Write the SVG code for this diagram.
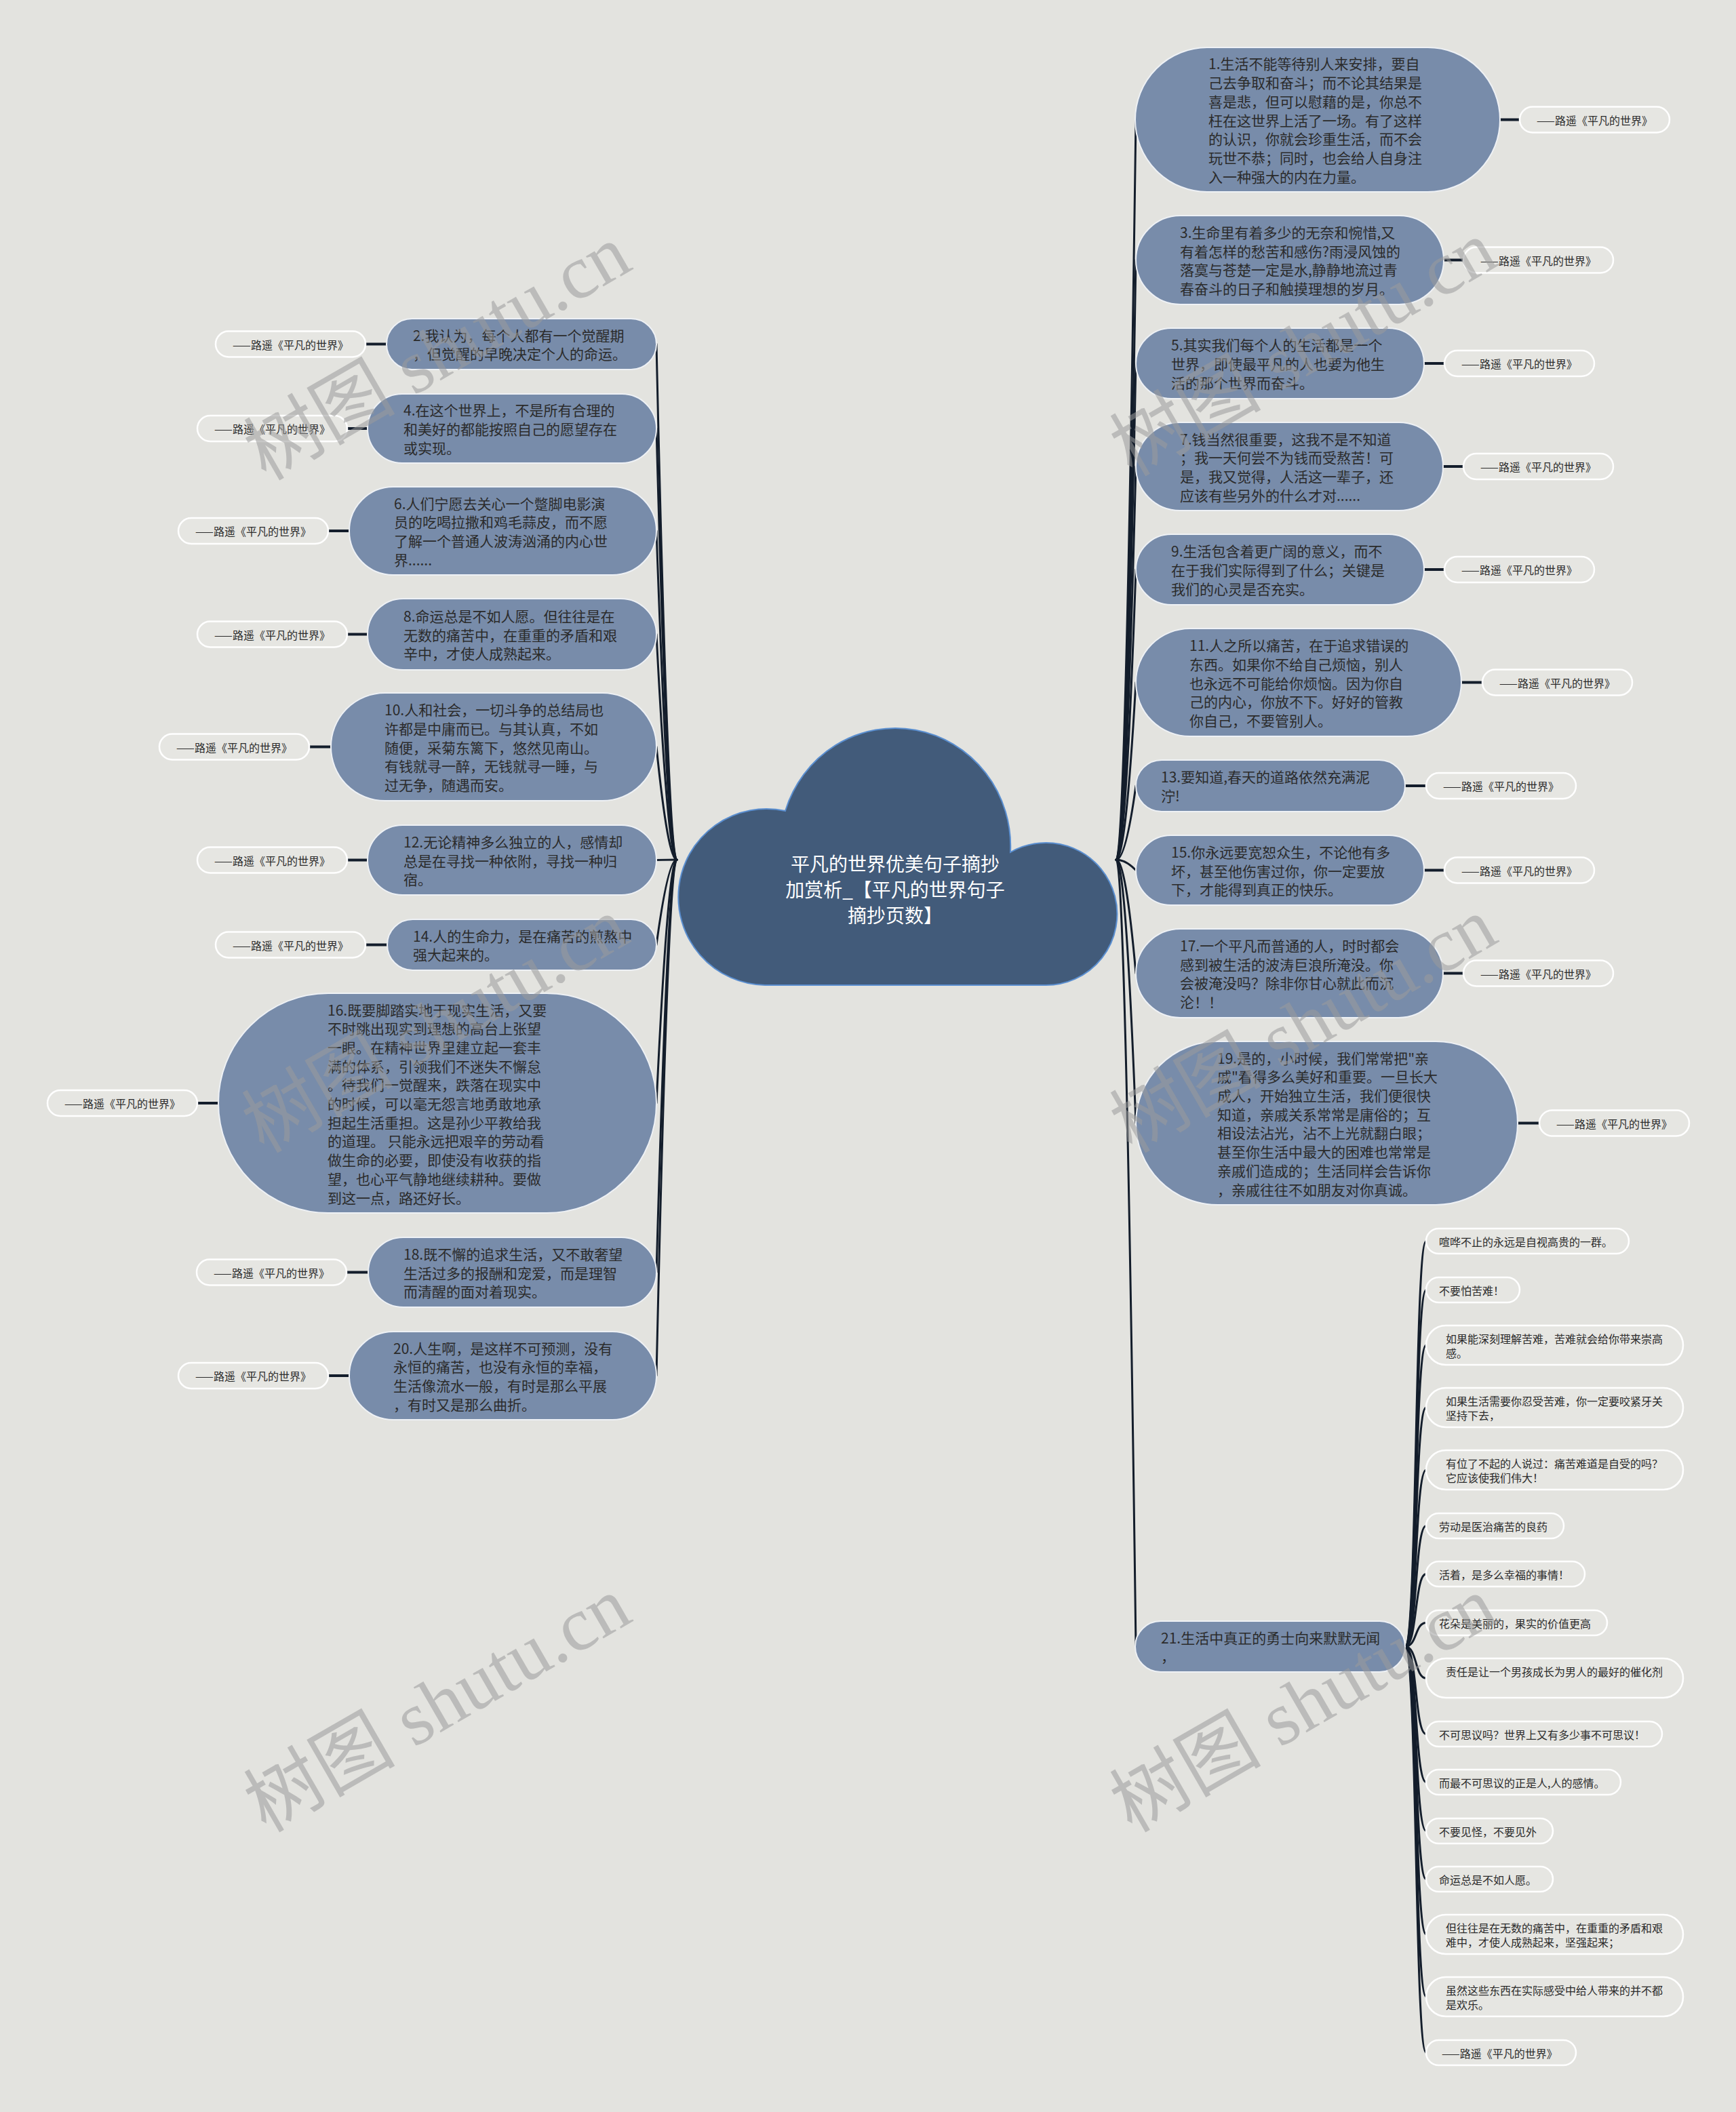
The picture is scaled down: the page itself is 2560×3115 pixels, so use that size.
<svg xmlns="http://www.w3.org/2000/svg" width="2560" height="3115" viewBox="0 0 2560 3115">
<style>
.bg{fill:#e3e3df}
.nb{fill:#788caa;stroke:#eef1f5;stroke-width:2}
.nt{font-family:"Noto Sans CJK SC","Liberation Sans",sans-serif;font-size:21px;fill:#2b2b2b;dominant-baseline:central}
.lb{fill:#e6e6e2;stroke:#ffffff;stroke-width:2.5}
.lt{font-family:"Noto Sans CJK SC","Liberation Sans",sans-serif;font-size:16px;fill:#2b2b2b;dominant-baseline:central;text-anchor:middle}
.ct{font-family:"Noto Sans CJK SC","Liberation Sans",sans-serif;font-size:16px;fill:#2b2b2b;dominant-baseline:central}
.cn{fill:none;stroke:#131d2b;stroke-width:3;stroke-linecap:round}
.st{fill:none;stroke:#131d2b;stroke-width:4}
.rt{font-family:"Noto Sans CJK SC","Liberation Sans",sans-serif;font-size:28px;fill:#ffffff;dominant-baseline:central;text-anchor:middle}
.wm{font-family:"Liberation Serif","Noto Sans CJK SC",serif;font-size:112px;fill:#9a9a9a;fill-opacity:0.55;text-anchor:middle;dominant-baseline:central}
</style>
<rect class="bg" x="0" y="0" width="2560" height="3115"/>

<g id="connectors">
<!-- left main -->
<path class="cn" d="M998,1268 Q985,1268 968,507.5"/>
<path class="cn" d="M998,1268 Q985,1268 968,632"/>
<path class="cn" d="M998,1268 Q985,1268 968,783"/>
<path class="cn" d="M998,1268 Q985,1268 968,935.5"/>
<path class="cn" d="M998,1268 Q985,1268 968,1101.5"/>
<path class="cn" d="M998,1268 Q985,1268 968,1268.5"/>
<path class="cn" d="M998,1268 Q985,1268 968,1393.5"/>
<path class="cn" d="M998,1268 Q985,1268 968,1627"/>
<path class="cn" d="M998,1268 Q985,1268 968,1876.5"/>
<path class="cn" d="M998,1268 Q985,1268 968,2029"/>
<!-- right main -->
<path class="cn" d="M1646,1268 Q1660,1268 1675,176.5"/>
<path class="cn" d="M1646,1268 Q1660,1268 1675,383.5"/>
<path class="cn" d="M1646,1268 Q1660,1268 1675,536"/>
<path class="cn" d="M1646,1268 Q1660,1268 1675,688"/>
<path class="cn" d="M1646,1268 Q1660,1268 1675,840"/>
<path class="cn" d="M1646,1268 Q1660,1268 1675,1006.5"/>
<path class="cn" d="M1646,1268 Q1660,1268 1675,1159"/>
<path class="cn" d="M1646,1268 Q1660,1268 1675,1283.5"/>
<path class="cn" d="M1646,1268 Q1660,1268 1675,1435.5"/>
<path class="cn" d="M1646,1268 Q1660,1268 1675,1656.5"/>
<path class="cn" d="M1646,1268 Q1660,1268 1675,2428.5"/>
<!-- stubs to labels -->
<path class="st" d="M539,507.5H570M512,632H542M484,783H515M512,935.5H542M456,1101.5H488M512,1268.5H542M539,1393.5H571M291,1627H322M511,1876.5H543M484,2029H515"/>
<path class="st" d="M2212,176.5H2241M2129,383.5H2158M2100,536H2130M2128,688H2158M2100,840H2130M2155,1006.5H2186M2072,1159H2103M2100,1283.5H2130M2128,1435.5H2158M2238,1656.5H2270"/>
<!-- node 21 children -->
<path class="cn" d="M2072,2428.5 C2090,2428.5 2086,1830.5 2103,1830.5"/>
<path class="cn" d="M2072,2428.5 C2090,2428.5 2086,1902.5 2103,1902.5"/>
<path class="cn" d="M2072,2428.5 C2090,2428.5 2086,1984 2103,1984"/>
<path class="cn" d="M2072,2428.5 C2090,2428.5 2086,2076 2103,2076"/>
<path class="cn" d="M2072,2428.5 C2090,2428.5 2086,2168 2103,2168"/>
<path class="cn" d="M2072,2428.5 C2090,2428.5 2086,2250.5 2103,2250.5"/>
<path class="cn" d="M2072,2428.5 C2090,2428.5 2086,2321.5 2103,2321.5"/>
<path class="cn" d="M2072,2428.5 C2090,2428.5 2086,2393.5 2103,2393.5"/>
<path class="cn" d="M2072,2428.5 C2090,2428.5 2086,2475 2103,2475"/>
<path class="cn" d="M2072,2428.5 C2090,2428.5 2086,2557.5 2103,2557.5"/>
<path class="cn" d="M2072,2428.5 C2090,2428.5 2086,2628.5 2103,2628.5"/>
<path class="cn" d="M2072,2428.5 C2090,2428.5 2086,2700.5 2103,2700.5"/>
<path class="cn" d="M2072,2428.5 C2090,2428.5 2086,2771.5 2103,2771.5"/>
<path class="cn" d="M2072,2428.5 C2090,2428.5 2086,2853 2103,2853"/>
<path class="cn" d="M2072,2428.5 C2090,2428.5 2086,2945 2103,2945"/>
<path class="cn" d="M2072,2428.5 C2090,2428.5 2086,3027.5 2103,3027.5"/>
</g>

<g id="root">
<path d="M1128,1453 A130,130 0 1 1 1158,1196 A170,174 0 0 1 1490,1257 A105,105 0 1 1 1541,1453 Z" fill="#425b7a" stroke="#5b8fd0" stroke-width="2"/>
<text class="rt"><tspan x="1320" y="1273">平凡的世界优美句子摘抄</tspan><tspan x="1320" y="1311">加赏析_【平凡的世界句子</tspan><tspan x="1320" y="1349">摘抄页数】</tspan></text>
</g>

<!-- right nodes -->
<g id="n1"><rect class="nb" x="1674" y="70" width="538" height="213" rx="106.5"/>
<text class="nt"><tspan x="1782" y="93.4">1.生活不能等待别人来安排，要自</tspan><tspan x="1782" y="121.1">己去争取和奋斗；而不论其结果是</tspan><tspan x="1782" y="148.8">喜是悲，但可以慰藉的是，你总不</tspan><tspan x="1782" y="176.5">枉在这世界上活了一场。有了这样</tspan><tspan x="1782" y="204.2">的认识，你就会珍重生活，而不会</tspan><tspan x="1782" y="231.9">玩世不恭；同时，也会给人自身注</tspan><tspan x="1782" y="259.6">入一种强大的内在力量。</tspan></text></g>
<g id="l1"><rect class="lb" x="2241" y="157.5" width="221" height="38" rx="19"/><text class="lt" x="2351.5" y="176.5">——路遥《平凡的世界》</text></g>

<g id="n3"><rect class="nb" x="1675" y="318" width="454" height="131" rx="65.5"/>
<text class="nt"><tspan x="1740" y="342">3.生命里有着多少的无奈和惋惜,又</tspan><tspan x="1740" y="369.7">有着怎样的愁苦和感伤?雨浸风蚀的</tspan><tspan x="1740" y="397.4">落寞与苍楚一定是水,静静地流过青</tspan><tspan x="1740" y="425.1">春奋斗的日子和触摸理想的岁月。</tspan></text></g>
<g id="l3"><rect class="lb" x="2158" y="364.5" width="221" height="38" rx="19"/><text class="lt" x="2268.5" y="383.5">——路遥《平凡的世界》</text></g>

<g id="n5"><rect class="nb" x="1675" y="484" width="425" height="104" rx="52"/>
<text class="nt"><tspan x="1727" y="508.3">5.其实我们每个人的生活都是一个</tspan><tspan x="1727" y="536">世界，即使最平凡的人也要为他生</tspan><tspan x="1727" y="563.7">活的那个世界而奋斗。</tspan></text></g>
<g id="l5"><rect class="lb" x="2130" y="517" width="221" height="38" rx="19"/><text class="lt" x="2240.5" y="536">——路遥《平凡的世界》</text></g>

<g id="n7"><rect class="nb" x="1675" y="623" width="453" height="130" rx="65"/>
<text class="nt"><tspan x="1740" y="646.5">7.钱当然很重要，这我不是不知道</tspan><tspan x="1740" y="674.2">；我一天何尝不为钱而受熬苦！可</tspan><tspan x="1740" y="701.9">是，我又觉得，人活这一辈子，还</tspan><tspan x="1740" y="729.6">应该有些另外的什么才对......</tspan></text></g>
<g id="l7"><rect class="lb" x="2158" y="669" width="221" height="38" rx="19"/><text class="lt" x="2268.5" y="688">——路遥《平凡的世界》</text></g>

<g id="n9"><rect class="nb" x="1675" y="788" width="425" height="104" rx="52"/>
<text class="nt"><tspan x="1727" y="812.3">9.生活包含着更广阔的意义，而不</tspan><tspan x="1727" y="840">在于我们实际得到了什么；关键是</tspan><tspan x="1727" y="867.7">我们的心灵是否充实。</tspan></text></g>
<g id="l9"><rect class="lb" x="2130" y="821" width="221" height="38" rx="19"/><text class="lt" x="2240.5" y="840">——路遥《平凡的世界》</text></g>

<g id="n11"><rect class="nb" x="1675" y="927" width="480" height="159" rx="79.5"/>
<text class="nt"><tspan x="1754" y="951.1">11.人之所以痛苦，在于追求错误的</tspan><tspan x="1754" y="978.8">东西。如果你不给自己烦恼，别人</tspan><tspan x="1754" y="1006.5">也永远不可能给你烦恼。因为你自</tspan><tspan x="1754" y="1034.2">己的内心，你放不下。好好的管教</tspan><tspan x="1754" y="1061.9">你自己，不要管别人。</tspan></text></g>
<g id="l11"><rect class="lb" x="2186" y="987.5" width="221" height="38" rx="19"/><text class="lt" x="2296.5" y="1006.5">——路遥《平凡的世界》</text></g>

<g id="n13"><rect class="nb" x="1675" y="1121" width="397" height="76" rx="38"/>
<text class="nt"><tspan x="1712" y="1145.2">13.要知道,春天的道路依然充满泥</tspan><tspan x="1712" y="1172.9">泞!</tspan></text></g>
<g id="l13"><rect class="lb" x="2103" y="1140" width="221" height="38" rx="19"/><text class="lt" x="2213.5" y="1159">——路遥《平凡的世界》</text></g>

<g id="n15"><rect class="nb" x="1675" y="1232" width="425" height="103" rx="51.5"/>
<text class="nt"><tspan x="1727" y="1255.8">15.你永远要宽恕众生，不论他有多</tspan><tspan x="1727" y="1283.5">坏，甚至他伤害过你，你一定要放</tspan><tspan x="1727" y="1311.2">下，才能得到真正的快乐。</tspan></text></g>
<g id="l15"><rect class="lb" x="2130" y="1264.5" width="221" height="38" rx="19"/><text class="lt" x="2240.5" y="1283.5">——路遥《平凡的世界》</text></g>

<g id="n17"><rect class="nb" x="1675" y="1370" width="453" height="131" rx="65.5"/>
<text class="nt"><tspan x="1740" y="1394">17.一个平凡而普通的人，时时都会</tspan><tspan x="1740" y="1421.7">感到被生活的波涛巨浪所淹没。你</tspan><tspan x="1740" y="1449.4">会被淹没吗？除非你甘心就此而沉</tspan><tspan x="1740" y="1477.1">沦！！</tspan></text></g>
<g id="l17"><rect class="lb" x="2158" y="1416.5" width="221" height="38" rx="19"/><text class="lt" x="2268.5" y="1435.5">——路遥《平凡的世界》</text></g>

<g id="n19"><rect class="nb" x="1675" y="1536" width="563" height="241" rx="120.5"/>
<text class="nt"><tspan x="1795" y="1559.6">19.是的，小时候，我们常常把"亲</tspan><tspan x="1795" y="1587.3">戚"看得多么美好和重要。一旦长大</tspan><tspan x="1795" y="1615">成人，开始独立生活，我们便很快</tspan><tspan x="1795" y="1642.7">知道，亲戚关系常常是庸俗的；互</tspan><tspan x="1795" y="1670.4">相设法沾光，沾不上光就翻白眼；</tspan><tspan x="1795" y="1698.1">甚至你生活中最大的困难也常常是</tspan><tspan x="1795" y="1725.8">亲戚们造成的；生活同样会告诉你</tspan><tspan x="1795" y="1753.5">，亲戚往往不如朋友对你真诚。</tspan></text></g>
<g id="l19"><rect class="lb" x="2270" y="1637.5" width="221" height="38" rx="19"/><text class="lt" x="2380.5" y="1656.5">——路遥《平凡的世界》</text></g>

<g id="n21"><rect class="nb" x="1674" y="2391" width="398" height="75" rx="37.5"/>
<text class="nt"><tspan x="1712" y="2414.6">21.生活中真正的勇士向来默默无闻</tspan><tspan x="1712" y="2442.3">，</tspan></text></g>

<!-- node 21 children -->
<g id="c1"><rect class="lb" x="2103" y="1812" width="299" height="37" rx="18.5"/><text class="ct" x="2122" y="1830.5">喧哗不止的永远是自视高贵的一群。</text></g>
<g id="c2"><rect class="lb" x="2103" y="1884" width="138" height="37" rx="18.5"/><text class="ct" x="2122" y="1902.5">不要怕苦难！</text></g>
<g id="c3"><rect class="lb" x="2103" y="1955" width="379" height="58" rx="29"/><text class="ct"><tspan x="2132" y="1973.5">如果能深刻理解苦难，苦难就会给你带来崇高</tspan><tspan x="2132" y="1994.5">感。</tspan></text></g>
<g id="c4"><rect class="lb" x="2103" y="2047" width="379" height="58" rx="29"/><text class="ct"><tspan x="2132" y="2065.5">如果生活需要你忍受苦难，你一定要咬紧牙关</tspan><tspan x="2132" y="2086.5">坚持下去，</tspan></text></g>
<g id="c5"><rect class="lb" x="2103" y="2139" width="379" height="58" rx="29"/><text class="ct"><tspan x="2132" y="2157.5">有位了不起的人说过：痛苦难道是自受的吗？</tspan><tspan x="2132" y="2178.5">它应该使我们伟大！</tspan></text></g>
<g id="c6"><rect class="lb" x="2103" y="2232" width="203" height="37" rx="18.5"/><text class="ct" x="2122" y="2250.5">劳动是医治痛苦的良药</text></g>
<g id="c7"><rect class="lb" x="2103" y="2303" width="234" height="37" rx="18.5"/><text class="ct" x="2122" y="2321.5">活着，是多么幸福的事情！</text></g>
<g id="c8"><rect class="lb" x="2103" y="2375" width="267" height="37" rx="18.5"/><text class="ct" x="2122" y="2393.5">花朵是美丽的，果实的价值更高</text></g>
<g id="c9"><rect class="lb" x="2103" y="2446" width="379" height="58" rx="29"/><text class="ct" x="2132" y="2464.5">责任是让一个男孩成长为男人的最好的催化剂</text></g>
<g id="c10"><rect class="lb" x="2103" y="2539" width="348" height="37" rx="18.5"/><text class="ct" x="2122" y="2557.5">不可思议吗？世界上又有多少事不可思议！</text></g>
<g id="c11"><rect class="lb" x="2103" y="2610" width="287" height="37" rx="18.5"/><text class="ct" x="2122" y="2628.5">而最不可思议的正是人,人的感情。</text></g>
<g id="c12"><rect class="lb" x="2103" y="2682" width="187" height="37" rx="18.5"/><text class="ct" x="2122" y="2700.5">不要见怪，不要见外</text></g>
<g id="c13"><rect class="lb" x="2103" y="2753" width="187" height="37" rx="18.5"/><text class="ct" x="2122" y="2771.5">命运总是不如人愿。</text></g>
<g id="c14"><rect class="lb" x="2103" y="2824" width="379" height="58" rx="29"/><text class="ct"><tspan x="2132" y="2842.5">但往往是在无数的痛苦中，在重重的矛盾和艰</tspan><tspan x="2132" y="2863.5">难中，才使人成熟起来，坚强起来；</tspan></text></g>
<g id="c15"><rect class="lb" x="2103" y="2916" width="379" height="58" rx="29"/><text class="ct"><tspan x="2132" y="2934.5">虽然这些东西在实际感受中给人带来的并不都</tspan><tspan x="2132" y="2955.5">是欢乐。</tspan></text></g>
<g id="c16"><rect class="lb" x="2103" y="3009" width="221" height="37" rx="18.5"/><text class="ct" x="2126" y="3027.5">——路遥《平凡的世界》</text></g>

<!-- left nodes -->
<g id="n2"><rect class="nb" x="570" y="470" width="398" height="75" rx="37.5"/>
<text class="nt"><tspan x="609" y="493.6">2.我认为，每个人都有一个觉醒期</tspan><tspan x="609" y="521.3">，但觉醒的早晚决定个人的命运。</tspan></text></g>
<g id="l2"><rect class="lb" x="318" y="488.5" width="221" height="38" rx="19"/><text class="lt" x="428.5" y="507.5">——路遥《平凡的世界》</text></g>

<g id="n4"><rect class="nb" x="542" y="581" width="426" height="102" rx="51"/>
<text class="nt"><tspan x="595" y="604.3">4.在这个世界上，不是所有合理的</tspan><tspan x="595" y="632">和美好的都能按照自己的愿望存在</tspan><tspan x="595" y="659.7">或实现。</tspan></text></g>
<g id="l4"><rect class="lb" x="291" y="613" width="221" height="38" rx="19"/><text class="lt" x="401.5" y="632">——路遥《平凡的世界》</text></g>

<g id="n6"><rect class="nb" x="515" y="718" width="453" height="130" rx="65"/>
<text class="nt"><tspan x="581" y="741.5">6.人们宁愿去关心一个蹩脚电影演</tspan><tspan x="581" y="769.2">员的吃喝拉撒和鸡毛蒜皮，而不愿</tspan><tspan x="581" y="796.9">了解一个普通人波涛汹涌的内心世</tspan><tspan x="581" y="824.6">界......</tspan></text></g>
<g id="l6"><rect class="lb" x="263" y="764" width="221" height="38" rx="19"/><text class="lt" x="373.5" y="783">——路遥《平凡的世界》</text></g>

<g id="n8"><rect class="nb" x="542" y="883" width="426" height="105" rx="52.5"/>
<text class="nt"><tspan x="595" y="907.8">8.命运总是不如人愿。但往往是在</tspan><tspan x="595" y="935.5">无数的痛苦中，在重重的矛盾和艰</tspan><tspan x="595" y="963.2">辛中，才使人成熟起来。</tspan></text></g>
<g id="l8"><rect class="lb" x="291" y="916.5" width="221" height="38" rx="19"/><text class="lt" x="401.5" y="935.5">——路遥《平凡的世界》</text></g>

<g id="n10"><rect class="nb" x="488" y="1022" width="480" height="159" rx="79.5"/>
<text class="nt"><tspan x="567" y="1046.1">10.人和社会，一切斗争的总结局也</tspan><tspan x="567" y="1073.8">许都是中庸而已。与其认真，不如</tspan><tspan x="567" y="1101.5">随便，采菊东篱下，悠然见南山。</tspan><tspan x="567" y="1129.2">有钱就寻一醉，无钱就寻一睡，与</tspan><tspan x="567" y="1156.9">过无争，随遇而安。</tspan></text></g>
<g id="l10"><rect class="lb" x="235" y="1082.5" width="221" height="38" rx="19"/><text class="lt" x="345.5" y="1101.5">——路遥《平凡的世界》</text></g>

<g id="n12"><rect class="nb" x="542" y="1217" width="426" height="103" rx="51.5"/>
<text class="nt"><tspan x="595" y="1240.8">12.无论精神多么独立的人，感情却</tspan><tspan x="595" y="1268.5">总是在寻找一种依附，寻找一种归</tspan><tspan x="595" y="1296.2">宿。</tspan></text></g>
<g id="l12"><rect class="lb" x="291" y="1249.5" width="221" height="38" rx="19"/><text class="lt" x="401.5" y="1268.5">——路遥《平凡的世界》</text></g>

<g id="n14"><rect class="nb" x="571" y="1356" width="397" height="75" rx="37.5"/>
<text class="nt"><tspan x="609" y="1379.6">14.人的生命力，是在痛苦的煎熬中</tspan><tspan x="609" y="1407.3">强大起来的。</tspan></text></g>
<g id="l14"><rect class="lb" x="318" y="1374.5" width="221" height="38" rx="19"/><text class="lt" x="428.5" y="1393.5">——路遥《平凡的世界》</text></g>

<g id="n16"><rect class="nb" x="322" y="1465" width="646" height="324" rx="162"/>
<text class="nt"><tspan x="483" y="1488.5">16.既要脚踏实地于现实生活，又要</tspan><tspan x="483" y="1516.2">不时跳出现实到理想的高台上张望</tspan><tspan x="483" y="1543.9">一眼。在精神世界里建立起一套丰</tspan><tspan x="483" y="1571.6">满的体系，引领我们不迷失不懈怠</tspan><tspan x="483" y="1599.3">。待我们一觉醒来，跌落在现实中</tspan><tspan x="483" y="1627">的时候，可以毫无怨言地勇敢地承</tspan><tspan x="483" y="1654.7">担起生活重担。这是孙少平教给我</tspan><tspan x="483" y="1682.4">的道理。 只能永远把艰辛的劳动看</tspan><tspan x="483" y="1710.1">做生命的必要，即使没有收获的指</tspan><tspan x="483" y="1737.8">望，也心平气静地继续耕种。要做</tspan><tspan x="483" y="1765.5">到这一点，路还好长。</tspan></text></g>
<g id="l16"><rect class="lb" x="70" y="1608" width="221" height="38" rx="19"/><text class="lt" x="180.5" y="1627">——路遥《平凡的世界》</text></g>

<g id="n18"><rect class="nb" x="543" y="1825" width="425" height="103" rx="51.5"/>
<text class="nt"><tspan x="595" y="1848.8">18.既不懈的追求生活，又不敢奢望</tspan><tspan x="595" y="1876.5">生活过多的报酬和宠爱，而是理智</tspan><tspan x="595" y="1904.2">而清醒的面对着现实。</tspan></text></g>
<g id="l18"><rect class="lb" x="290" y="1857.5" width="221" height="38" rx="19"/><text class="lt" x="400.5" y="1876.5">——路遥《平凡的世界》</text></g>

<g id="n20"><rect class="nb" x="515" y="1964" width="453" height="130" rx="65"/>
<text class="nt"><tspan x="580" y="1987.5">20.人生啊，是这样不可预测，没有</tspan><tspan x="580" y="2015.2">永恒的痛苦，也没有永恒的幸福，</tspan><tspan x="580" y="2042.9">生活像流水一般，有时是那么平展</tspan><tspan x="580" y="2070.6">，有时又是那么曲折。</tspan></text></g>
<g id="l20"><rect class="lb" x="263" y="2010" width="221" height="38" rx="19"/><text class="lt" x="373.5" y="2029">——路遥《平凡的世界》</text></g>

<g id="watermarks">
<text class="wm" x="645" y="520" transform="rotate(-30 645 520)">树图 shutu.cn</text>
<text class="wm" x="1922" y="514" transform="rotate(-30 1922 514)">树图 shutu.cn</text>
<text class="wm" x="642" y="1512" transform="rotate(-30 642 1512)">树图 shutu.cn</text>
<text class="wm" x="1922" y="1512" transform="rotate(-30 1922 1512)">树图 shutu.cn</text>
<text class="wm" x="645" y="2514" transform="rotate(-30 645 2514)">树图 shutu.cn</text>
<text class="wm" x="1922" y="2514" transform="rotate(-30 1922 2514)">树图 shutu.cn</text>
</g>
</svg>
